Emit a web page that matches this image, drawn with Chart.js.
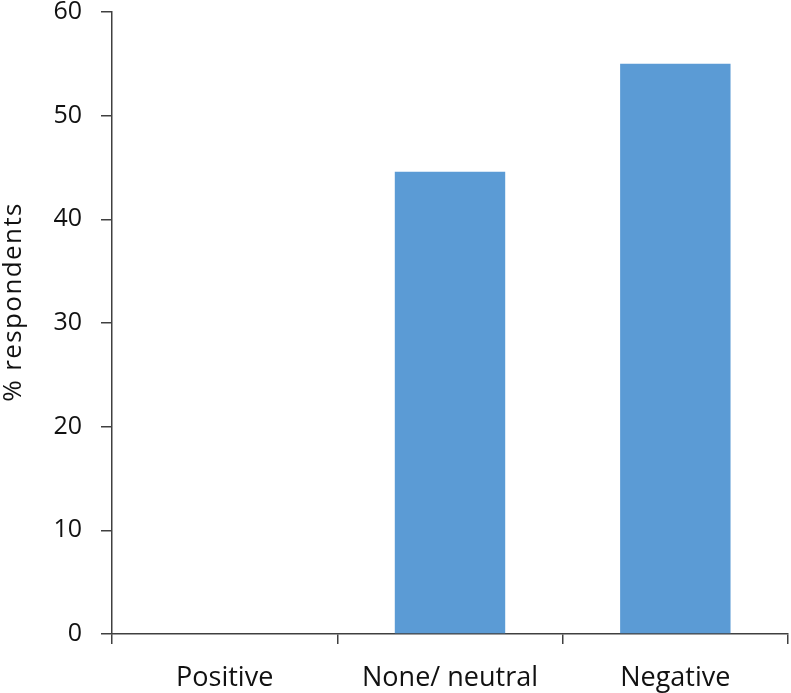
<!DOCTYPE html>
<html>
<head>
<meta charset="utf-8">
<script src="https://cdn.jsdelivr.net/npm/chart.js@4"></script>
<style>
  html, body { margin: 0; padding: 0; background: #fff; }
  #wrap { width: 791px; height: 693px; }
</style>
</head>
<body>
<div id="wrap"><canvas id="chart"></canvas></div>
<script>
const categories = ['Positive', 'None/ neutral', 'Negative'];
const respondents = [0, 44.6, 55];
const yTicks = [0, 10, 20, 30, 40, 50, 60];
const yTitle = '% respondents';

const axisColor = '#404040';
const textColor = '#111111';
const family = '"Open Sans", "Noto Sans", sans-serif';

const chart = document.querySelector('#chart').getContext('2d');

// y axis title drawn by hand so it can sit a bit above the middle like the original
const yTitlePlugin = {
    id: 'yTitle',
    afterDraw(c) {
        const ctx = c.ctx;
        ctx.save();
        ctx.translate(14, 302);
        ctx.rotate(-Math.PI / 2);
        ctx.font = '26px ' + family;
        ctx.letterSpacing = '1.4px';
        ctx.fillStyle = textColor;
        ctx.textAlign = 'center';
        ctx.textBaseline = 'middle';
        ctx.fillText(yTitle, 0, 0);
        ctx.restore();
    }
};

new Chart(chart, {
    type: 'bar',
    data: {
        labels: categories,
        datasets: [
            {
                label: yTitle,
                data: respondents,
                backgroundColor: '#5B9BD5',
                borderWidth: 0,
                barPercentage: 0.49,
                categoryPercentage: 1
            }
        ]
    },
    options: {
        responsive: true,
        maintainAspectRatio: false,
        animation: false,
        layout: { padding: { top: 0, right: 3, left: 0, bottom: 0 } },
        plugins: {
            legend: { display: false },
            tooltip: { enabled: false }
        },
        scales: {
            x: {
                offset: true,
                grid: {
                    offset: true,
                    drawOnChartArea: false,
                    drawTicks: true,
                    tickLength: 10,
                    color: axisColor,
                    lineWidth: 1.5
                },
                border: { color: axisColor, width: 1.5 },
                ticks: { color: textColor, font: { family: family, size: 27 }, padding: 18, maxRotation: 0 },
                afterFit: function (scale) { scale.height = 59; }
            },
            y: {
                min: 0,
                max: 60,
                afterBuildTicks: function (scale) {
                    scale.ticks = yTicks.map(v => ({ value: v }));
                },
                grid: {
                    drawOnChartArea: false,
                    drawTicks: true,
                    tickLength: 11,
                    color: axisColor,
                    lineWidth: 1.5
                },
                border: { color: axisColor, width: 1.5 },
                ticks: { color: textColor, font: { family: family, size: 25 }, padding: 19 },
                afterFit: function (scale) {
                    scale.width = 112;
                    scale.paddingTop = 12;
                }
            }
        }
    },
    plugins: [yTitlePlugin]
});
</script>
</body>
</html>
